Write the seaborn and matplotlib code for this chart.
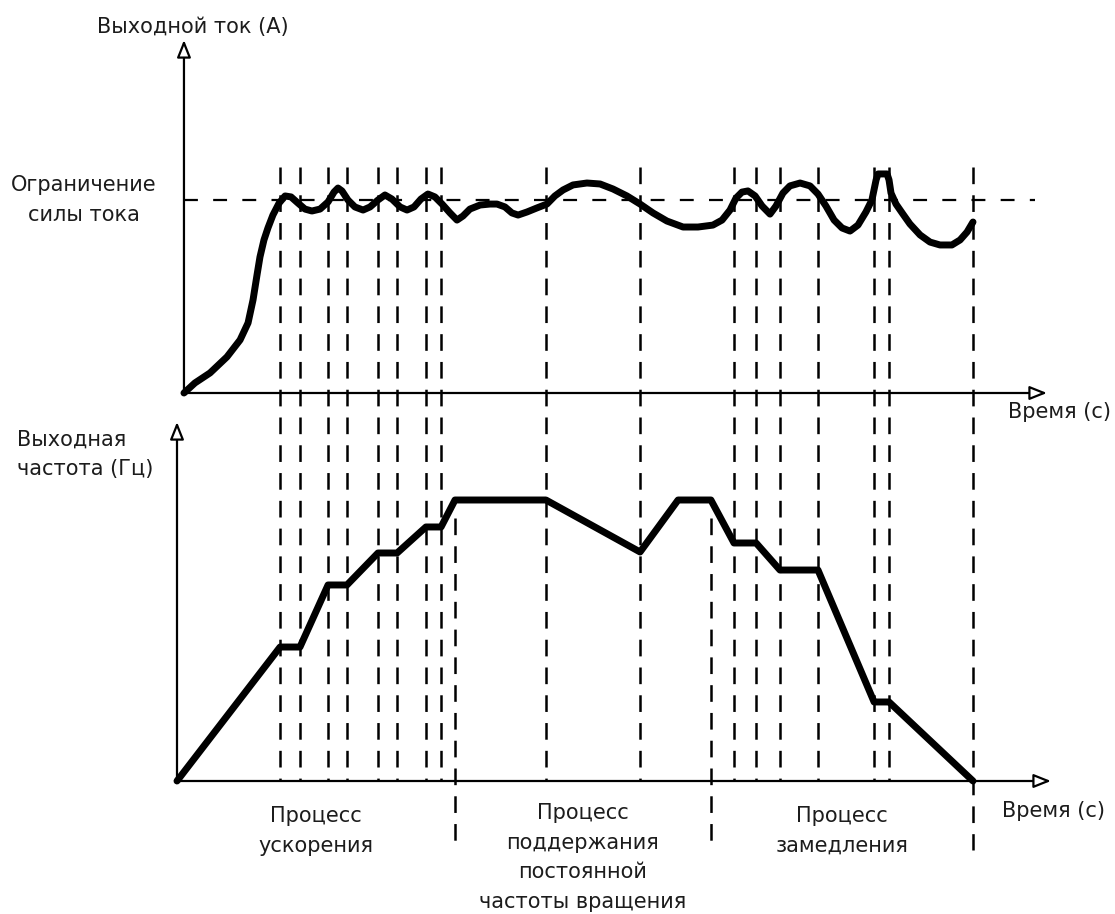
import matplotlib
matplotlib.use("Agg")
import matplotlib.pyplot as plt
import seaborn as sns
import pandas as pd

# ---- data -------------------------------------------------------------
# output current (A) over time (s)
current_t = [0.35, 0.90, 1.66, 2.51, 3.17, 3.57, 3.82, 4.02, 4.17, 4.37,
             4.57, 4.82, 5.13, 5.43, 5.73, 6.08, 6.43, 6.78, 7.19, 7.59,
             7.89, 8.09, 8.29, 8.59, 8.94, 9.35, 9.70, 10.10, 10.45, 10.80,
             11.21, 11.56, 11.91, 12.26, 12.61, 12.96, 13.32, 13.72, 14.07, 14.37,
             14.72, 15.23, 15.73, 16.08, 16.48, 16.83, 17.14, 17.59, 18.09, 18.59,
             18.99, 19.40, 19.90, 20.60, 21.26, 21.91, 22.61, 23.27, 23.92, 24.62,
             25.43, 26.18, 26.93, 27.39, 27.79, 28.09, 28.39, 28.69, 29.05, 29.40,
             29.80, 30.10, 30.45, 30.80, 31.31, 31.81, 32.21, 32.61, 33.02, 33.42,
             33.82, 34.22, 34.62, 34.92, 35.13, 35.23, 35.68, 35.78, 35.88, 36.13,
             36.48, 36.83, 37.34, 37.84, 38.34, 38.94, 39.35, 39.70, 40.00]
current_a = [0, 0.52, 1.04, 1.87, 2.75, 3.63, 4.82, 6.11, 7.05, 7.93,
             8.55, 9.22, 9.84, 10.21, 10.16, 9.84, 9.53, 9.43, 9.53, 9.90,
             10.41, 10.62, 10.47, 10.00, 9.64, 9.48, 9.64, 10.00, 10.26, 10.05,
             9.64, 9.48, 9.64, 10.05, 10.31, 10.16, 9.79, 9.33, 8.96, 9.17,
             9.53, 9.74, 9.79, 9.79, 9.64, 9.33, 9.22, 9.38, 9.59, 9.79,
             10.21, 10.52, 10.78, 10.88, 10.83, 10.57, 10.21, 9.79, 9.33, 8.91,
             8.60, 8.60, 8.70, 8.96, 9.48, 10.10, 10.41, 10.47, 10.21, 9.69,
             9.27, 9.69, 10.36, 10.73, 10.88, 10.73, 10.31, 9.69, 8.96, 8.55,
             8.39, 8.70, 9.38, 10.00, 11.04, 11.35, 11.35, 11.04, 10.36, 9.79,
             9.27, 8.76, 8.19, 7.82, 7.67, 7.67, 7.93, 8.34, 8.86]
current_limit = 10.0

# output frequency (Hz) over time (s)
freq_t = [0, 5.18, 6.18, 7.59, 8.54, 10.10, 11.06, 12.51, 13.27, 13.97, 18.54,
          23.27, 25.18, 26.83, 27.99, 29.10, 30.30, 32.21, 35.03, 35.78, 40.0]
freq_hz = [0, 23.84, 23.84, 34.88, 34.88, 40.57, 40.57, 45.20, 45.20, 50, 50,
           40.75, 50, 50, 42.35, 42.35, 37.54, 37.54, 14.06, 14.06, 0]

# switching instants marked by the thin guides
guide_t = [5.18, 6.18, 7.59, 8.54, 10.10, 11.06, 12.51, 13.27, 18.54, 23.27,
           27.99, 29.10, 30.30, 32.21, 35.03, 35.78]
phase_bounds = [0.0, 13.97, 26.83, 40.0]
phase_labels = ["Процесс\nускорения",
                "Процесс\nподдержания\nпостоянной\nчастоты вращения",
                "Процесс\nзамедления"]

# ---- style ------------------------------------------------------------
sns.set_theme(style="white")
plt.rcParams["font.family"] = ["DejaVu Sans"]
plt.rcParams["font.size"] = 15
plt.rcParams["lines.scale_dashes"] = False
TXT = "#1c1c1c"
DASH = (0, (12, 8))
LS = 1.6          # line spacing of multi-line captions
PITCH = 28        # resulting baseline-to-baseline distance, px

W, H = 1115, 914
fig = plt.figure(figsize=(W / 100, H / 100), dpi=100)
fig.patch.set_facecolor("white")

# horizontal layout: time 0 at pixel 177, 19.9 px per second
X0, SX = 177, 19.9
XLIM = (-X0 / SX, (W - X0) / SX)


def band(y_top, y_bot):
    ax = fig.add_axes([0, 1 - y_bot / H, 1, (y_bot - y_top) / H])
    ax.set_xlim(*XLIM)
    ax.axis("off")
    ax.patch.set_alpha(0)
    return ax


def axis_arrow(ax, start, end):
    ax.annotate("", xy=end, xytext=start, annotation_clip=False,
                arrowprops=dict(arrowstyle="-|>,head_length=1.05,head_width=0.42",
                                lw=1.6, fc="white", ec="black",
                                shrinkA=0, shrinkB=0, mutation_scale=10))


# ---- current panel ------------------------------------------------------
ax_i = band(20, 400)
SY_I = 19.3
ax_i.set_ylim((393 - 400) / SY_I, (393 - 20) / SY_I)
t_i0 = current_t[0]
axis_arrow(ax_i, (t_i0, 0), (t_i0, (393 - 40) / SY_I))
axis_arrow(ax_i, (t_i0, 0), ((1047 - X0) / SX, 0))
ax_i.plot([t_i0, (1035 - X0) / SX], [current_limit, current_limit],
          color="black", lw=1.6, ls=(0, (10, 11)))
df_i = pd.DataFrame({"t": current_t, "a": current_a})
sns.lineplot(data=df_i, x="t", y="a", ax=ax_i, color="black", lw=5,
             estimator=None, sort=False, zorder=5)
ax_i.set_xlim(*XLIM)
ax_i.axis("off")

# ---- frequency panel ----------------------------------------------------
ax_f = band(415, 790)
SY_F = 5.62
ax_f.set_ylim((781 - 790) / SY_F, (781 - 415) / SY_F)
axis_arrow(ax_f, (0, 0), (0, (781 - 422) / SY_F))
axis_arrow(ax_f, (0, 0), ((1051 - X0) / SX, 0))
df_f = pd.DataFrame({"t": freq_t, "f": freq_hz})
sns.lineplot(data=df_f, x="t", y="f", ax=ax_f, color="black", lw=5,
             estimator=None, sort=False, zorder=5)
ax_f.set_xlim(*XLIM)
ax_f.axis("off")

# ---- guides spanning both panels (y in pixel rows) ---------------------
ax_g = band(0, H)
ax_g.set_ylim(H, 0)
ax_g.vlines(guide_t, 167, 781, colors="black", lw=1.8, linestyles=[DASH])
ax_g.vlines([phase_bounds[-1]], 167, 850, colors="black", lw=1.8, linestyles=[DASH])
ax_g.vlines(phase_bounds[1:-1], 518, 850, colors="black", lw=1.8, linestyles=[DASH])

# phase captions: first baseline at row 824; 'baseline' anchors the last line
for lo, hi, lab in zip(phase_bounds[:-1], phase_bounds[1:], phase_labels):
    n = lab.count("\n")
    ax_g.text((lo + hi) / 2, 824 + n * PITCH, lab, ha="center", va="baseline",
              multialignment="center", linespacing=LS, color=TXT)


# ---- axis captions --------------------------------------------------------
def ftext(x, y_first, s, **kw):
    y = y_first + s.count("\n") * PITCH
    fig.text(x / W, 1 - y / H, s, color=TXT, linespacing=LS,
             va="baseline", **kw)


ftext(193, 33, "Выходной ток (А)", ha="center")
ftext(84, 193, "Ограничение\nсилы тока", ha="center", multialignment="center")
ftext(1008, 418, "Время (с)", ha="left")
ftext(17, 447, "Выходная\nчастота (Гц)", ha="left", multialignment="left")
ftext(1002, 817, "Время (с)", ha="left")

fig.savefig("out.png", dpi=100, facecolor="white")
